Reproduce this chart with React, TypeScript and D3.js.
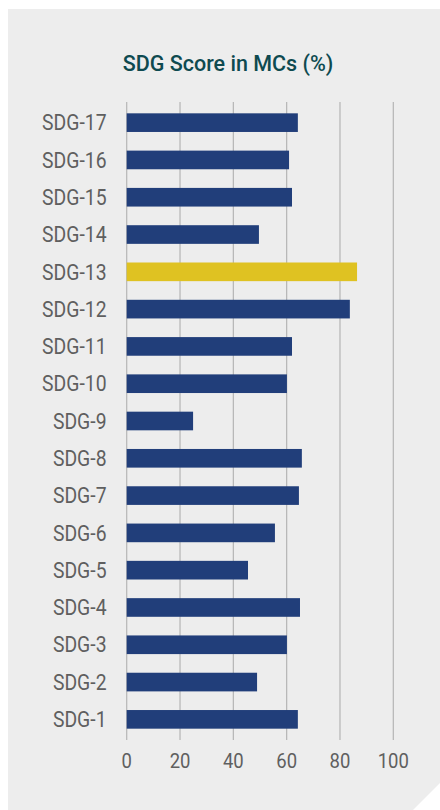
import React from "react";
import * as d3 from "d3";

const categories = ["SDG-17","SDG-16","SDG-15","SDG-14","SDG-13","SDG-12","SDG-11","SDG-10","SDG-9","SDG-8","SDG-7","SDG-6","SDG-5","SDG-4","SDG-3","SDG-2","SDG-1"];
const values = [64.2,60.9,62.0,49.6,86.4,83.7,62.0,60.1,24.9,65.7,64.6,55.6,45.5,65.0,60.1,48.9,64.2];
const highlight = ["SDG-13"];
const xTicks = [0,20,40,60,80,100];
const title = "SDG Score in MCs (%)";

const W = 440, H = 810;
const SX = 0.9;

export default function App() {
  const x = d3.scaleLinear().domain([0, 100]).range([126.7, 393.3]);
  const y = d3.scaleBand<string>().domain(categories).range([104, 738]).paddingInner(0.5).paddingOuter(0.25);
  const font = "Roboto, 'Noto Sans', sans-serif";
  return (
    <svg width={W} height={H} style={{ position: "absolute", left: 0, top: 0 }}>
      <path d={`M8,9 H${W} V783 L413,${H} H8 Z`} fill="#ededed" />
      <text x={228} y={71} textAnchor="middle" fontFamily={font} fontWeight={500} fontSize={21.5} fill="#0e4a50">{title}</text>
      {xTicks.map(t => (
        <g key={t}>
          <line x1={x(t)} x2={x(t)} y1={102} y2={740} stroke="#b5b5b5" strokeWidth={1.2} />
          <text transform={`translate(${x(t)},768) scale(0.88,1)`} textAnchor="middle" fontFamily={font} fontSize={21} fill="#5f5f5f">{t}</text>
        </g>
      ))}
      {categories.map((c, i) => (
        <g key={c}>
          <rect x={x(0)} y={y(c)!} width={x(values[i]) - x(0)} height={y.bandwidth()} fill={highlight.includes(c) ? "#dfc222" : "#213e7a"} />
          <text transform={`translate(106.5,${y(c)! + y.bandwidth() / 2 + 7.7}) scale(${SX},1)`} textAnchor="end" fontFamily={font} fontSize={21.5} fill="#5f5f5f">{c}</text>
        </g>
      ))}
    </svg>
  );
}
